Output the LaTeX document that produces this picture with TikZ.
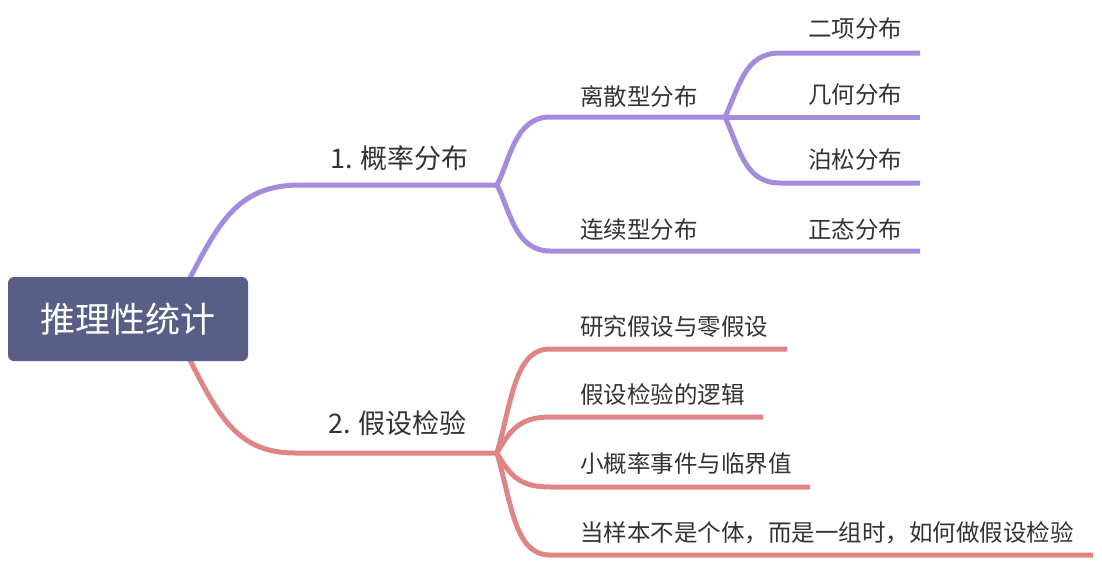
\documentclass[tikz,border=0pt]{standalone}
\usepackage{fontspec}
\newfontfamily\cjk{Noto Sans CJK SC}
\definecolor{purp}{HTML}{A48BDC}
\definecolor{rd}{HTML}{E08585}
\definecolor{rootc}{HTML}{585E85}
\definecolor{txt}{HTML}{333333}
\begin{document}
\begin{tikzpicture}[x=1pt,y=-1pt,
  purpline/.style={draw=purp, line width=5pt},
  redline/.style={draw=rd, line width=5pt},
  lvone/.style={font=\cjk\fontsize{27}{30}\selectfont, text=txt, inner sep=0pt, anchor=west},
  lvtwo/.style={font=\cjk\fontsize{23.5}{26}\selectfont, text=txt, inner sep=0pt, anchor=west},
  rootbox/.style={fill=rootc, rounded corners=6pt, minimum width=240pt, minimum height=84pt,
    text=white, font=\cjk\fontsize{35}{40}\selectfont, inner sep=0pt}]
\useasboundingbox (0,0) rectangle (1102,560);

% coordinates
\coordinate (p0) at (190,278);
\coordinate (p1) at (300,185);
\coordinate (j1) at (497,185);
\coordinate (d0) at (550,117);
\coordinate (j2) at (725,117);
\coordinate (c0) at (550,251);
\coordinate (c1) at (920,251);
\coordinate (e0) at (780,53);
\coordinate (e1) at (920,53);
\coordinate (g1) at (920,117);
\coordinate (h0) at (780,183);
\coordinate (h1) at (920,183);

\coordinate (q0) at (190,360);
\coordinate (q1) at (295,453);
\coordinate (k1) at (497,453);
\coordinate (a0) at (550,349);
\coordinate (a1) at (787,349);
\coordinate (b0) at (550,417);
\coordinate (b1) at (763,417);
\coordinate (m0) at (550,487);
\coordinate (m1) at (810,487);
\coordinate (n0) at (550,555);
\coordinate (n1) at (1093,555);

% purple branch
\draw[purpline] (p0) .. controls (220,220) and (240,185) .. (p1) -- (j1);
\draw[purpline] (j1) .. controls (510,160) and (515,117) .. (d0) -- (j2);
\draw[purpline] (j1) .. controls (510,210) and (515,251) .. (c0) -- (c1);
\draw[purpline] (j2) .. controls (740,85) and (745,53) .. (e0) -- (e1);
\draw[purpline] (j2) -- (g1);
\draw[purpline] (j2) .. controls (740,150) and (745,183) .. (h0) -- (h1);

% red branch
\draw[redline] (q0) .. controls (220,420) and (240,453) .. (q1) -- (k1);
\draw[redline] (k1) .. controls (512,400) and (515,349) .. (a0) -- (a1);
\draw[redline] (k1) .. controls (510,430) and (520,417) .. (b0) -- (b1);
\draw[redline] (k1) .. controls (510,476) and (520,487) .. (m0) -- (m1);
\draw[redline] (k1) .. controls (512,506) and (515,555) .. (n0) -- (n1);

% root
\node[rootbox] (root) at (128,319) {推理性统计};

% labels
\node[lvone] (t1) at (330,158) {1. 概率分布};
\node[lvone] (t2) at (328,423) {2. 假设检验};
\node[lvtwo] (s1) at (580,97) {离散型分布};
\node[lvtwo] (s2) at (580,230) {连续型分布};
\node[lvtwo] (u1) at (808,29) {二项分布};
\node[lvtwo] (u2) at (808,95) {几何分布};
\node[lvtwo] (u3) at (808,160) {泊松分布};
\node[lvtwo] (u4) at (808,230) {正态分布};
\node[lvtwo] (v1) at (580,327) {研究假设与零假设};
\node[lvtwo] (v2) at (580,395) {假设检验的逻辑};
\node[lvtwo] (v3) at (580,464) {小概率事件与临界值};
\node[lvtwo] (v4) at (580,533) {当样本不是个体，而是一组时，如何做假设检验};
\end{tikzpicture}
\end{document}
